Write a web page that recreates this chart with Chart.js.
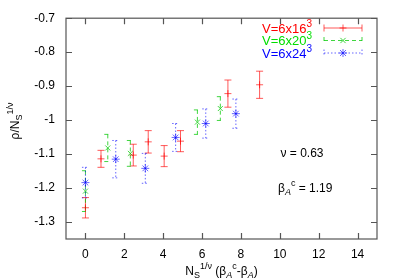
<!DOCTYPE html>
<html>
<head>
<meta charset="utf-8">
<script src="https://cdn.jsdelivr.net/npm/chart.js@4"></script>
<style>
  html, body { margin: 0; padding: 0; background: #fff; }
  #wrap { width: 399px; height: 279px; }
</style>
</head>
<body>
<div id="wrap"><canvas id="chart" width="399" height="279"></canvas></div>
<script>
const seriesNames = ["V=6x16", "V=6x20", "V=6x24"];
const seriesSup = ["3", "3", "3"];
const xTicks = [0, 2, 4, 6, 8, 10, 12, 14];
const yTicks = [-1.3, -1.2, -1.1, -1, -0.9, -0.8, -0.7];

const x16 = [0, 0.8, 2.46, 3.23, 4.05, 4.89, 7.33, 8.96];
const y16 = [-1.258, -1.114, -1.103, -1.064, -1.106, -1.062, -0.922, -0.896];
const e16 = [0.03, 0.025, 0.032, 0.033, 0.031, 0.031, 0.04, 0.04];

const x20 = [0, 1.15, 2.31, 5.76, 6.94];
const y20 = [-1.209, -1.082, -1.098, -1.006, -0.966];
const e20 = [0.06, 0.04, 0.038, 0.036, 0.035];

const x24 = [0, 1.56, 3.08, 4.64, 6.19, 7.74];
const y24 = [-1.184, -1.115, -1.142, -1.051, -1.010, -0.981];
const e24 = [0.045, 0.055, 0.044, 0.041, 0.043, 0.043];

const lineColors = ["rgba(255,0,0,0.65)", "rgba(0,200,0,0.75)", "rgba(0,0,255,0.6)"];
const textColors = ["#ff0000", "#00dd00", "#0000ff"];
const dashes = [[], [4, 3], [1.5, 2]];
const markers = ["cross", "crossRot", "star"];

const FONT = "'Liberation Sans', Arial, sans-serif";
Chart.defaults.font.family = FONT;
Chart.defaults.font.size = 12;
Chart.defaults.color = "#000";

const xs = [x16, x20, x24];
const ys = [y16, y20, y24];
const es = [e16, e20, e24];

function makeDataset(i) {
    return {
        label: seriesNames[i],
        data: xs[i].map((x, j) => ({ x: x, y: ys[i][j] })),
        borderColor: lineColors[i],
        backgroundColor: lineColors[i],
        pointStyle: markers[i],
        pointRadius: i === 2 ? 4 : 3.5,
        pointBorderWidth: 1,
        showLine: false
    };
}

// text with sub/superscripts
function richWidth(ctx, segs) {
    let w = 0;
    segs.forEach(s => {
        ctx.font = (s.italic ? "italic " : "") + s.size + "px " + FONT;
        w += ctx.measureText(s.t).width;
    });
    return w;
}
function drawRich(ctx, segs, x, y, align) {
    const w = richWidth(ctx, segs);
    let cx = align === "right" ? x - w : align === "center" ? x - w / 2 : x;
    ctx.textAlign = "left";
    ctx.textBaseline = "alphabetic";
    segs.forEach(s => {
        ctx.font = (s.italic ? "italic " : "") + s.size + "px " + FONT;
        ctx.fillText(s.t, cx, y + (s.dy || 0));
        cx += ctx.measureText(s.t).width;
    });
}

function drawMarker(ctx, style, x, y, r) {
    ctx.beginPath();
    if (style === "cross" || style === "star") {
        ctx.moveTo(x - r, y); ctx.lineTo(x + r, y);
        ctx.moveTo(x, y - r); ctx.lineTo(x, y + r);
    }
    if (style === "crossRot" || style === "star") {
        const d = r * 0.75;
        ctx.moveTo(x - d, y - d); ctx.lineTo(x + d, y + d);
        ctx.moveTo(x - d, y + d); ctx.lineTo(x + d, y - d);
    }
    ctx.stroke();
}

const errorBars = {
    id: "errorBars",
    beforeDatasetsDraw(chart) {
        const ctx = chart.ctx;
        const xScale = chart.scales.x, yScale = chart.scales.y;
        ctx.save();
        ctx.lineWidth = 1;
        xs.forEach((arr, i) => {
            ctx.strokeStyle = lineColors[i];
            ctx.setLineDash(dashes[i]);
            arr.forEach((x, j) => {
                const px = xScale.getPixelForValue(x);
                const top = yScale.getPixelForValue(ys[i][j] + es[i][j]);
                const bot = yScale.getPixelForValue(ys[i][j] - es[i][j]);
                ctx.beginPath();
                ctx.moveTo(px, top); ctx.lineTo(px, bot);
                ctx.moveTo(px - 3.5, top); ctx.lineTo(px + 3.5, top);
                ctx.moveTo(px - 3.5, bot); ctx.lineTo(px + 3.5, bot);
                ctx.stroke();
            });
        });
        ctx.restore();
    }
};

const frame = {
    id: "frame",
    afterDraw(chart) {
        const ctx = chart.ctx;
        const a = chart.chartArea;
        const xScale = chart.scales.x, yScale = chart.scales.y;
        ctx.save();
        ctx.strokeStyle = "#555";
        ctx.lineWidth = 1.2;
        ctx.strokeRect(a.left, a.top, a.right - a.left, a.bottom - a.top);
        ctx.beginPath();
        xTicks.forEach(v => {
            const px = Math.round(xScale.getPixelForValue(v)) + 0.5;
            ctx.moveTo(px, a.bottom); ctx.lineTo(px, a.bottom - 6);
            ctx.moveTo(px, a.top); ctx.lineTo(px, a.top + 6);
        });
        yTicks.forEach(v => {
            const py = Math.round(yScale.getPixelForValue(v)) + 0.5;
            ctx.moveTo(a.left, py); ctx.lineTo(a.left + 6, py);
            ctx.moveTo(a.right, py); ctx.lineTo(a.right - 6, py);
        });
        ctx.stroke();

        // legend
        const rowY = [32.5, 45, 57.5];
        seriesNames.forEach((name, i) => {
            ctx.fillStyle = textColors[i];
            drawRich(ctx, [
                { t: name, size: 13 },
                { t: seriesSup[i], size: 10, dy: -6 }
            ], 312, rowY[i], "right");
            const ly = rowY[i] - 4.5;
            ctx.strokeStyle = lineColors[i];
            ctx.lineWidth = 1;
            ctx.setLineDash(dashes[i]);
            ctx.beginPath();
            ctx.moveTo(324, ly); ctx.lineTo(362, ly);
            ctx.moveTo(324, ly - 3.5); ctx.lineTo(324, ly + 3.5);
            ctx.moveTo(362, ly - 3.5); ctx.lineTo(362, ly + 3.5);
            ctx.stroke();
            ctx.setLineDash([]);
            drawMarker(ctx, markers[i], 343, ly, i === 2 ? 4 : 3.5);
        });

        // annotations
        ctx.fillStyle = "#000";
        drawRich(ctx, [{ t: "ν = 0.63", size: 12 }], 302, 157, "center");
        drawRich(ctx, [
            { t: "β", size: 12 },
            { t: "A", size: 9, dy: 3, italic: true },
            { t: "c", size: 9, dy: -6 },
            { t: " = 1.19", size: 12 }
        ], 278, 192, "left");

        // x title
        drawRich(ctx, [
            { t: "N", size: 12 },
            { t: "S", size: 9, dy: 3 },
            { t: "1/ν", size: 9, dy: -6 },
            { t: " (β", size: 12 },
            { t: "A", size: 9, dy: 3, italic: true },
            { t: "c", size: 9, dy: -6 },
            { t: "-β", size: 12 },
            { t: "A", size: 9, dy: 3, italic: true },
            { t: ")", size: 12 }
        ], (a.left + a.right) / 2, 275, "center");

        // y title
        ctx.translate(19, 121);
        ctx.rotate(-Math.PI / 2);
        drawRich(ctx, [
            { t: "ρ/N", size: 12 },
            { t: "S", size: 9, dy: 3 },
            { t: "1/ν", size: 9, dy: -6 }
        ], 0, 0, "center");
        ctx.restore();
    }
};

new Chart(document.getElementById("chart"), {
    type: "scatter",
    data: { datasets: [0, 1, 2].map(makeDataset) },
    options: {
        responsive: false,
        animation: false,
        devicePixelRatio: 1,
        layout: { padding: { top: 15, right: 22, left: 0, bottom: 0 } },
        plugins: { legend: { display: false }, tooltip: { enabled: false } },
        scales: {
            x: {
                type: "linear",
                min: -1, max: 15,
                grid: { display: false, drawTicks: false },
                border: { display: false },
                afterBuildTicks: s => { s.ticks = xTicks.map(v => ({ value: v })); },
                afterFit: s => { s.height = 40; },
                ticks: { padding: 8, maxRotation: 0, callback: v => String(v) }
            },
            y: {
                type: "linear",
                min: -1.35, max: -0.7,
                grid: { display: false, drawTicks: false },
                border: { display: false },
                afterBuildTicks: s => { s.ticks = yTicks.map(v => ({ value: v })); },
                afterFit: s => { s.width = 66; },
                ticks: { padding: 11, callback: v => String(Math.round(v * 10) / 10) }
            }
        }
    },
    plugins: [errorBars, frame]
});
</script>
</body>
</html>
